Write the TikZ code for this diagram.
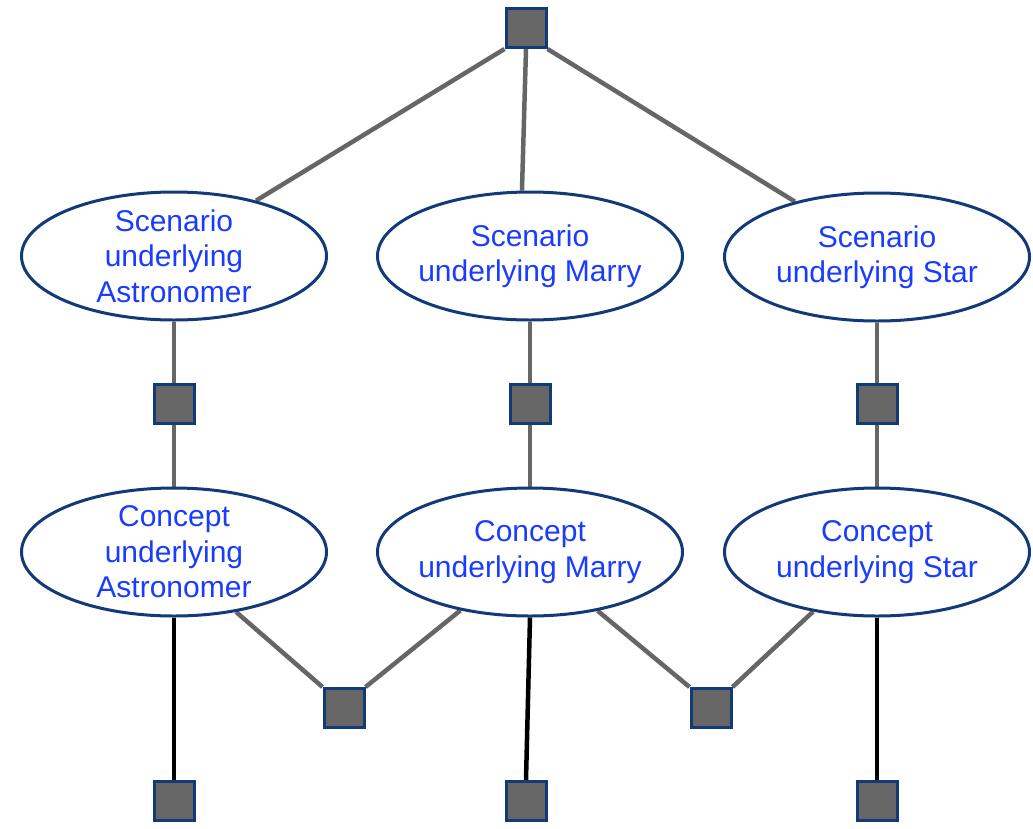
\documentclass[tikz,border=0pt]{standalone}
\usepackage{fontspec}
\setmainfont{Liberation Sans}
\usetikzlibrary{shapes.geometric,backgrounds}
\definecolor{navy}{RGB}{18,58,120}
\definecolor{boxgray}{RGB}{102,102,102}
\definecolor{labelblue}{RGB}{25,60,255}
\tikzset{
  factor/.style={rectangle, draw=navy, fill=boxgray, line width=3pt,
    minimum width=40pt, minimum height=39pt, inner sep=0pt},
  idea/.style={ellipse, draw=navy, fill=white, line width=3pt,
    minimum width=305pt, minimum height=128pt, inner xsep=-12pt, inner ysep=-12pt,
    align=center, text=labelblue, font=\fontsize{30}{35.5}\selectfont},
  link/.style={draw=boxgray, line width=4.5pt},
  blacklink/.style={draw=black, line width=4.5pt}
}
\begin{document}
\begin{tikzpicture}[x=1pt,y=-1pt]
  \useasboundingbox (0,0) rectangle (1033,828);

  % top factor
  \node[factor] (top) at (526,28) {};

  % scenario ellipses
  \node[idea] (sa) at (174,256) {Scenario\\underlying\\Astronomer};
  \node[idea] (sm) at (530,256) {Scenario\\underlying Marry};
  \node[idea] (ss) at (877,257) {Scenario\\underlying Star};

  % factors between scenarios and concepts
  \node[factor] (fa) at (174,404) {};
  \node[factor] (fm) at (530,404) {};
  \node[factor] (fs) at (877,404) {};

  % concept ellipses
  \node[idea] (ca) at (174,552) {Concept\\underlying\\Astronomer};
  \node[idea] (cm) at (530,552) {Concept\\underlying Marry};
  \node[idea] (cs) at (877,552) {Concept\\underlying Star};

  % pairwise factors
  \node[factor] (pam) at (344,708) {};
  \node[factor] (pms) at (711,708) {};

  % unary factors
  \node[factor] (ua) at (174,801) {};
  \node[factor] (um) at (526,801) {};
  \node[factor] (us) at (877,801) {};

  \begin{scope}[on background layer]
    \draw[link] (top.south west) -- (sa.34);
    \draw[link] (top.south) -- (sm.97);
    \draw[link] (top.south east) -- (ss.146);

    \draw[link] (sa.south) -- (fa.north);
    \draw[link] (sm.south) -- (fm.north);
    \draw[link] (ss.south) -- (fs.north);

    \draw[link] (fa.south) -- (ca.north);
    \draw[link] (fm.south) -- (cm.north);
    \draw[link] (fs.south) -- (cs.north);

    \draw[link] (ca.316) -- (pam.north west);
    \draw[link] (cm.220) -- (pam.north east);
    \draw[link] (cm.319) -- (pms.north west);
    \draw[link] (cs.223) -- (pms.north east);

    \draw[blacklink] (ca.south) -- (ua.north);
    \draw[blacklink] (cm.south) -- (um.north);
    \draw[blacklink] (cs.south) -- (us.north);
  \end{scope}
\end{tikzpicture}
\end{document}
